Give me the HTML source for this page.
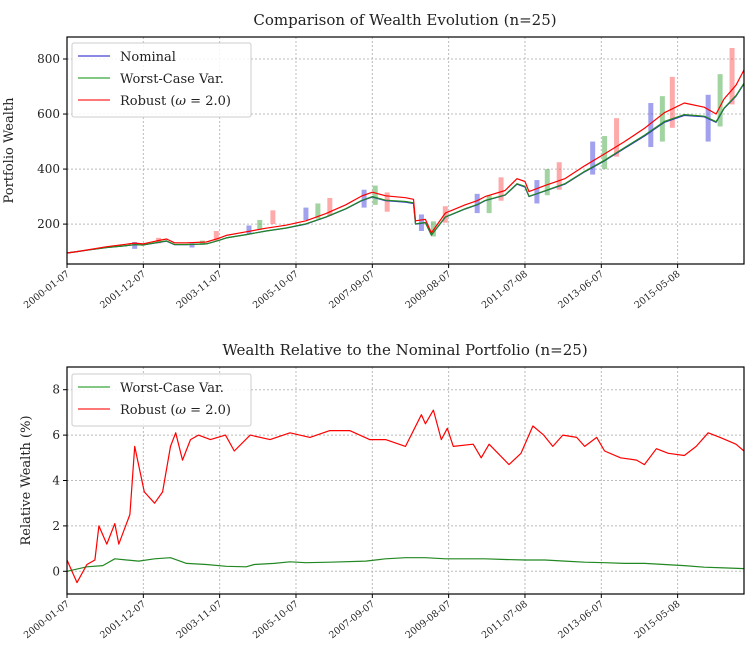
<!DOCTYPE html>
<html><head><meta charset="utf-8"><style>
html,body{margin:0;padding:0;background:#fff;}
svg{display:block;font-family:"DejaVu Serif","Liberation Serif",serif;}
</style></head><body>
<svg id="chart" width="753" height="657">
<g id="top"></g>
<g id="bot"></g>
</svg>
<script>
const tickLabels = ["2000-01-07","2001-12-07","2003-11-07","2005-10-07","2007-09-07","2009-08-07","2011-07-08","2013-06-07","2015-05-08"];
const tickYears = [0,1.917,3.833,5.75,7.667,9.583,11.5,13.417,15.333];
// Top chart series (time in years since 2000-01-07)
const wTimes = [0,0.25,0.5,1,1.5,1.7,1.9,2.25,2.5,2.7,3,3.5,3.8,4,4.5,5,5.5,6,6.5,7,7.4,7.67,8,8.5,8.7,8.75,9,9.15,9.5,10,10.3,10.5,11,11.3,11.5,11.6,12,12.5,13,13.5,14,14.5,15,15.5,16,16.3,16.5,16.8,17];
const nominal = [95,100,105,115,122,125,124,132,138,125,125,128,140,150,162,175,185,200,225,255,285,298,285,280,275,200,205,160,225,255,270,285,305,345,335,300,320,345,390,430,475,520,570,595,590,570,620,665,710];
const worstCase = [95,100,105,115,122,125,124,133,139,126,126,128,140,150,162,175,186,201,226,256,286,300,287,282,277,201,206,160,226,256,271,286,306,347,337,301,321,347,392,432,478,523,573,598,592,572,622,667,712];
const robust = [95,100,106,118,127,131,128,139,146,132,132,135,148,159,172,185,196,212,238,270,302,316,303,296,290,212,217,168,240,270,285,300,322,365,355,318,340,365,412,455,500,548,605,640,625,600,655,705,760];
const barT = [1.7,3.14,4.57,6.0,7.46,8.9,10.3,11.8,13.2,14.66,16.1, 3.4,4.84,6.3,7.74,9.2,10.6,12.06,13.5,14.95,16.4, 2.3,3.75,5.17,6.6,8.04,9.5,10.9,12.36,13.8,15.2,16.7];
const barLow = [110,115,165,215,260,175,240,275,380,480,500, 125,180,220,270,155,240,305,400,500,555, 130,140,200,230,245,205,285,325,445,550,635];
const barHigh = [135,130,195,260,325,235,310,360,500,640,670, 140,215,275,340,210,305,400,520,665,745, 150,175,250,295,315,265,370,425,585,735,840];
const barSeries = ["n","n","n","n","n","n","n","n","n","n","n","w","w","w","w","w","w","w","w","w","w","r","r","r","r","r","r","r","r","r","r","r"];
// Bottom chart
const rTimes = [0,0.25,0.5,0.7,0.8,1.0,1.2,1.3,1.58,1.7,1.94,2.2,2.4,2.6,2.73,2.9,3.1,3.3,3.6,3.98,4.2,4.6,5.1,5.6,6.1,6.6,7.1,7.6,8.0,8.5,8.9,9.0,9.2,9.4,9.55,9.7,10.2,10.4,10.6,11.1,11.4,11.7,11.97,12.2,12.45,12.8,13.0,13.3,13.5,13.9,14.3,14.5,14.8,15.1,15.5,15.8,16.1,16.4,16.8,17];
const robustRel = [0.5,-0.5,0.3,0.5,2.0,1.2,2.1,1.2,2.5,5.5,3.5,3.0,3.5,5.5,6.1,4.9,5.8,6.0,5.8,6.0,5.3,6.0,5.8,6.1,5.9,6.2,6.2,5.8,5.8,5.5,6.9,6.5,7.1,5.8,6.3,5.5,5.6,5.0,5.6,4.7,5.2,6.4,6.0,5.5,6.0,5.9,5.5,5.9,5.3,5.0,4.9,4.7,5.4,5.2,5.1,5.5,6.1,5.9,5.6,5.3];
const gTimes = [0,0.5,0.9,1.2,1.5,1.8,2.2,2.6,3.0,3.5,4.0,4.5,4.7,5.2,5.6,6.0,6.6,7.5,8.0,8.5,9.0,9.5,10,10.5,11,11.5,12,12.5,13,13.5,14,14.5,15,15.5,16,16.5,17];
const worstRel = [0,0.2,0.25,0.55,0.5,0.45,0.55,0.6,0.35,0.3,0.22,0.2,0.3,0.35,0.42,0.38,0.4,0.45,0.55,0.6,0.6,0.55,0.55,0.55,0.52,0.5,0.5,0.45,0.4,0.38,0.35,0.35,0.3,0.25,0.18,0.15,0.12];

const NS="http://www.w3.org/2000/svg";
function mk(parent,tag,attrs,text){const e=document.createElementNS(NS,tag);for(const k in attrs)e.setAttribute(k,attrs[k]);if(text!==undefined)e.textContent=text;parent.appendChild(e);return e;}
const L=67,R=744;
const xs=t=>L+(R-L)*t/17;

function axes(g,top,bot,ymin,ymax,yticks,title,ylabel,ylx){
  const ys=v=>bot-(v-ymin)/(ymax-ymin)*(bot-top);
  const t=mk(g,'text',{x:405,y:top-12,'text-anchor':'middle','font-size':15,fill:'#222'},title);
  
  
  tickYears.forEach((ty,i)=>{
    const x=xs(ty);
    const gl=mk(g,'line',{x1:x,x2:x,y1:top,y2:bot,stroke:'#bbb','stroke-dasharray':'2,2','stroke-width':1});
    
    
    mk(g,'line',{x1:x,x2:x,y1:bot,y2:bot+4,stroke:'#000'});
    const lb=mk(g,'text',{x:x+3,y:bot+11,'text-anchor':'end','font-size':9.5,fill:'#222',transform:`rotate(-38 ${x+3} ${bot+11})`},tickLabels[i]);
    
    
  });
  yticks.forEach(v=>{
    const y=ys(v);
    const gl=mk(g,'line',{x1:L,x2:R,y1:y,y2:y,stroke:'#bbb','stroke-dasharray':'2,2','stroke-width':1});
    
    
    mk(g,'line',{x1:L-4,x2:L,y1:y,y2:y,stroke:'#000'});
    const lb=mk(g,'text',{x:L-7,y:y+4,'text-anchor':'end','font-size':12,fill:'#222'},String(v));
    
    
  });
  const yl=mk(g,'text',{x:ylx,y:(top+bot)/2,'text-anchor':'middle','font-size':13,fill:'#222',transform:`rotate(-90 ${ylx} ${(top+bot)/2})`},ylabel);
  
  
  return ys;
}
function frame(g,top,bot){
  const f=mk(g,'rect',{x:L,y:top,width:R-L,height:bot-top,fill:'none',stroke:'#000','stroke-width':1.2});
  
  
}
function line(g,T,V,ys,color,name,w){
  const d=T.map((t,i)=>(i?'L':'M')+xs(t).toFixed(1)+','+ys(V[i]).toFixed(1)).join('');
  const p=mk(g,'path',{d,fill:'none',stroke:color,'stroke-width':w||1.2,'stroke-linejoin':'round'});
  
  
}
function legend(g,x,y,items){
  const h=items.length*22+8;
  const b=mk(g,'rect',{x,y,width:179,height:h,fill:'#fff','fill-opacity':0.85,stroke:'#ccc',rx:2});
  
  
  items.forEach((it,i)=>{
    const yy=y+13+i*22;
    mk(g,'line',{x1:x+6,x2:x+38,y1:yy,y2:yy,stroke:it[1],'stroke-width':1.5,'stroke-opacity':0.7});
    const t=mk(g,'text',{x:x+48,y:yy+5,'font-size':13,fill:'#222'});
    t.innerHTML=it[0];
    
    
  });
}
// top
const gt=document.getElementById('top');
const ysT=axes(gt,37,264,55,880,[200,400,600,800],'Comparison of Wealth Evolution (n=25)','Portfolio Wealth',13);
const cmap={n:'#4444dd',w:'#44aa44',r:'#ff5555'};
barT.forEach((t,i)=>{
  const r=mk(gt,'rect',{x:xs(t)-2.5,y:ysT(barHigh[i]),width:5,height:ysT(barLow[i])-ysT(barHigh[i]),fill:cmap[barSeries[i]],'fill-opacity':0.5});
  
  
});
line(gt,wTimes,nominal,ysT,'#3333cc','nominal-line');
line(gt,wTimes,worstCase,ysT,'#228822','worst-case-line');
line(gt,wTimes,robust,ysT,'#ff0000','robust-line');
frame(gt,37,264);
legend(gt,72,43,[['Nominal','#2222cc'],['Worst-Case Var.','#119911'],['Robust (<tspan font-style="italic">ω</tspan> = 2.0)','#ff0000']]);
// bottom
const gb=document.getElementById('bot');
const ysB=axes(gb,367,594,-1,9,[0,2,4,6,8],'Wealth Relative to the Nominal Portfolio (n=25)','Relative Wealth (%)',30);
line(gb,gTimes,worstRel,ysB,'#228822','worst-case-relative-line');
line(gb,rTimes,robustRel,ysB,'#ff0000','robust-relative-line');
frame(gb,367,594);
legend(gb,72,374,[['Worst-Case Var.','#119911'],['Robust (<tspan font-style="italic">ω</tspan> = 2.0)','#ff0000']]);
</script>
</body></html>
